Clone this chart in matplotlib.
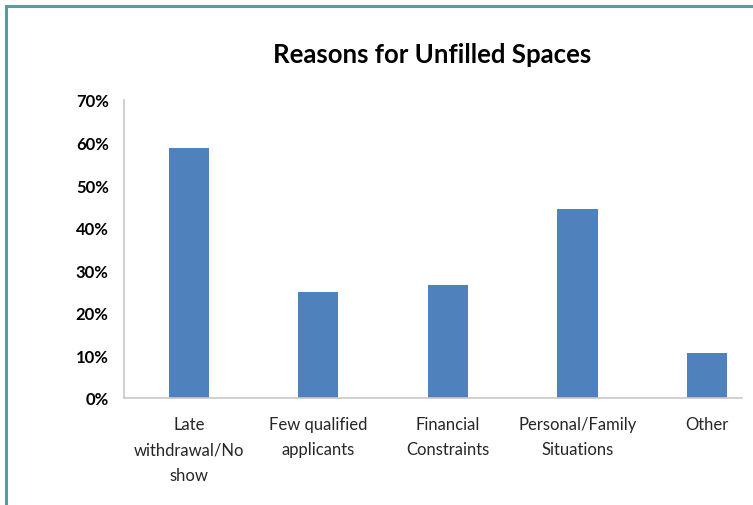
import matplotlib
matplotlib.use('Agg')
import matplotlib.pyplot as plt
from matplotlib.patches import Rectangle

categories = ['Late\nwithdrawal/No\nshow', 'Few qualified\napplicants', 'Financial\nConstraints',
              'Personal/Family\nSituations', 'Other']
values = [0.588, 0.248, 0.265, 0.444, 0.105]
yticks = [0, 0.1, 0.2, 0.3, 0.4, 0.5, 0.6, 0.7]

plt.rcParams['font.family'] = ['Lato', 'DejaVu Sans']

fig = plt.figure(figsize=(7.53, 5.06), dpi=100)
ax = fig.add_axes([0.1647, 0.2115, 0.9854 - 0.1647, 0.8004 - 0.2115])

x = range(len(categories))
ax.bar(x, values, width=0.31, color='#4F81BD')

ax.set_xlim(-0.5, 4.27)
ax.set_ylim(0, 0.7)
ax.set_yticks(yticks)
ax.set_yticklabels(['%d%%' % round(v * 100) for v in yticks], fontsize=12, fontweight='bold')
ax.set_xticks(list(x))
ax.set_xticklabels(categories, fontsize=12, color='#262626', linespacing=1.72)
ax.tick_params(axis='both', length=0)
ax.tick_params(axis='x', pad=13)
ax.tick_params(axis='y', pad=11)
for s in ['top', 'right']:
    ax.spines[s].set_visible(False)
for s in ['left', 'bottom']:
    ax.spines[s].set_color('#c8c8c8')
    ax.spines[s].set_linewidth(1.2)

fig.text(0.574, 0.892, 'Reasons for Unfilled Spaces', ha='center', va='center',
         fontsize=18.5, fontweight='bold')

# frame line on the left and top
fig.patches.append(Rectangle((5.5 / 753, -0.1), 1.2, 1.1 - 6.5 / 506, transform=fig.transFigure,
                             fill=False, edgecolor='#5B98A8', linewidth=2.2))

fig.savefig('out.png', dpi=100)
